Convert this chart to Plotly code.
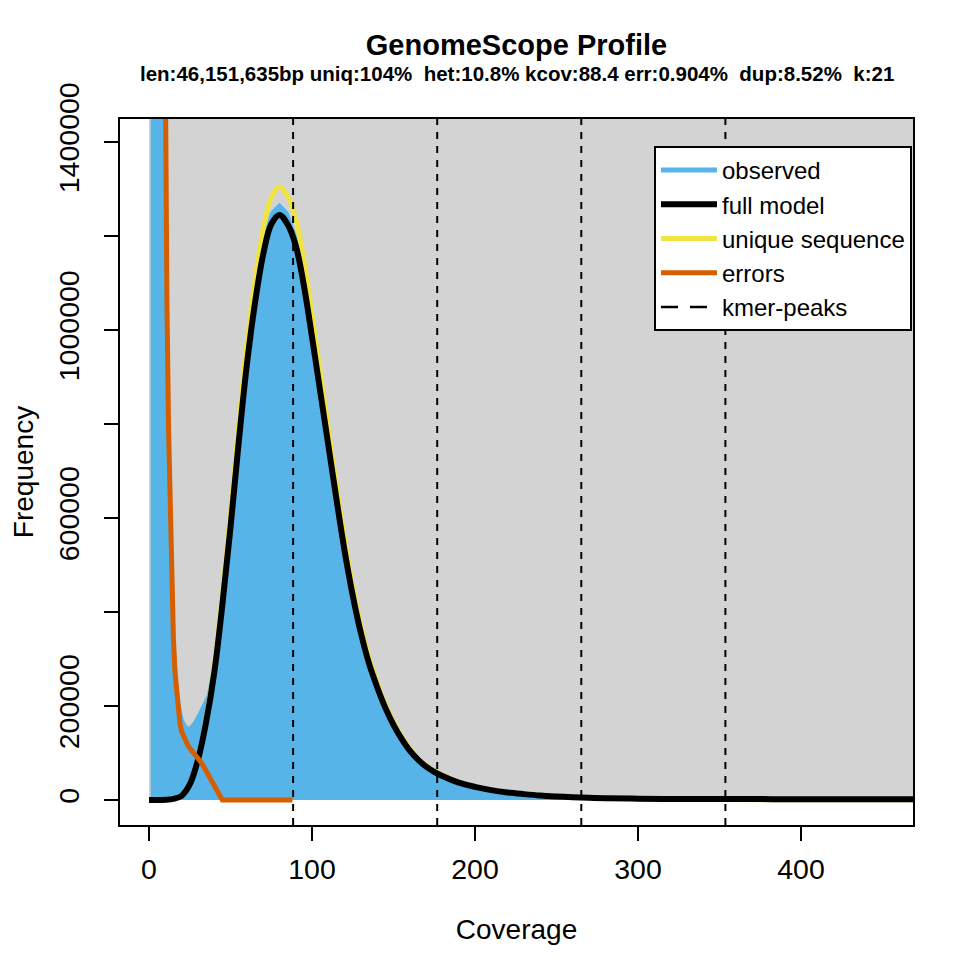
import plotly.graph_objects as go

# k-mer coverage histogram (observed)
obs_cov = [1, 2, 3, 4, 5, 6, 7, 8, 9, 10, 11, 12, 13, 14, 15, 16, 17, 18, 19, 20,
           21, 22, 23, 24, 25, 26, 27, 28, 29, 30, 32, 34, 36, 38, 40, 42, 44, 46, 48, 50,
           55, 60, 65, 70, 75, 80, 85, 90, 95, 100, 105, 110, 115, 120, 125, 130, 135, 140,
           145, 150, 155, 160, 165, 170, 175, 180, 190, 200, 210, 220, 230, 240, 250, 260,
           270, 280, 290, 300, 350, 400, 450]
obs_freq = [9000000, 6000000, 4600000, 3800000, 3300000, 2900000, 2500000, 2100000, 1650000, 1250000,
            950000, 740000, 580000, 460000, 370000, 305000, 255000, 220000, 195000, 180000,
            168000, 160000, 156000, 154000, 155000, 158000, 162000, 167000, 173000, 180000,
            192000, 206000, 222000, 258000, 295000, 350000, 420000, 490000, 560000, 630000,
            810000, 970000, 1095000, 1190000, 1250000, 1268000, 1250000, 1200000, 1115000, 1005000,
            885000, 765000, 650000, 540000, 442000, 360000, 293000, 240000, 196000, 160000,
            129000, 104000, 85000, 70000, 59000, 50000, 36000, 27000, 20000, 15000,
            11000, 8500, 6500, 5000, 3800, 2900, 2200, 1700, 800, 400, 200]

# model curves
model_cov = [0, 5, 10, 15, 20, 25, 30, 35, 40, 45, 50, 55, 60, 65, 70, 75, 80, 85, 90, 95,
             100, 105, 110, 115, 120, 125, 130, 135, 140, 145, 150, 155, 160, 165, 170, 175,
             180, 190, 200, 210, 220, 230, 240, 250, 260, 270, 280, 300, 325, 350, 400, 450, 470]
full_model = [0, 0, 500, 2500, 9000, 33000, 85000, 165000, 270000, 415000, 580000, 760000, 925000,
              1057000, 1160000, 1225000, 1245000, 1225000, 1180000, 1095000, 985000, 870000,
              755000, 640000, 530000, 435000, 355000, 290000, 240000, 196000, 160000, 130000,
              105000, 86000, 71000, 60000, 51000, 37000, 28000, 21000, 16000, 12500, 9500, 7500,
              6000, 4700, 3800, 2800, 2200, 2000, 1800, 1800, 1800]
unique_seq = [0, 0, 500, 2500, 9500, 34000, 88000, 172000, 283000, 435000, 607000, 795000, 968000,
              1105000, 1215000, 1282000, 1305000, 1285000, 1237000, 1148000, 1032000, 910000,
              788000, 668000, 553000, 453000, 370000, 302000, 249000, 203000, 166000, 135000,
              109000, 89000, 73500, 62000, 52500, 38000, 28500, 21500, 16300, 12700, 9700, 7600,
              6000, 4700, 3700, 2500, 1500, 1000, 500, 300, 300]

err_cov = [8, 9, 10, 11, 12, 13, 14, 15, 16, 17, 18, 19, 20, 22, 24, 26, 28, 30, 32, 34, 36, 38,
           40, 42, 44, 45, 88]
err_freq = [2600000, 1950000, 1450000, 1060000, 790000, 590000, 440000, 340000, 270000, 222000,
            186000, 162000, 146000, 127000, 115000, 106000, 98000, 90000, 80000, 68000, 56000,
            43000, 30000, 17000, 5000, 0, 0]

kmer_peaks = [88.4, 176.8, 265.2, 353.6]

y_ticks = [0, 200000, 400000, 600000, 800000, 1000000, 1200000, 1400000]
y_tick_text = ["0", "200000", "", "600000", "", "1000000", "", "1400000"]
x_ticks = [0, 100, 200, 300, 400]

subtitle = ("len:46,151,635bp uniq:104%\u00a0\u00a0het:10.8% kcov:88.4 err:0.904%"
            "\u00a0\u00a0dup:8.52%\u00a0\u00a0k:21")

BLUE = "#56B4E9"
YELLOW = "#F0E442"
ORANGE = "#D55E00"
FONT = "Liberation Sans"
x_range = [-17.8, 468.7]
y_range = [-53200, 1449000]

# the page body adds an 8px margin, so the figure is 967px to fill the 975px window
W = H = 967

fig = go.Figure()

fig.add_trace(go.Scatter(x=obs_cov, y=obs_freq, mode="lines", fill="tozeroy",
                         fillcolor=BLUE, line=dict(width=2, color=BLUE),
                         showlegend=False, hoverinfo="skip"))
# legend entry for the histogram drawn as a line sample, like R's legend
fig.add_trace(go.Scatter(x=[None], y=[None], mode="lines", name="observed",
                         line=dict(color=BLUE, width=5), legendrank=1))
fig.add_trace(go.Scatter(x=model_cov, y=unique_seq, mode="lines", name="unique sequence",
                         line=dict(color=YELLOW, width=5, shape="spline"), legendrank=3))
fig.add_trace(go.Scatter(x=model_cov, y=full_model, mode="lines", name="full model",
                         line=dict(color="black", width=6, shape="spline"), legendrank=2))
fig.add_trace(go.Scatter(x=err_cov, y=err_freq, mode="lines", name="errors",
                         line=dict(color=ORANGE, width=5), legendrank=4))
fig.add_trace(go.Scatter(x=[None], y=[None], mode="lines", name="kmer-peaks",
                         line=dict(color="black", width=2.5, dash="17px,12px"), legendrank=5))

# light grey background from the origin, as GenomeScope does
fig.add_shape(type="rect", xref="x", yref="y", x0=0, x1=x_range[1], y0=0, y1=y_range[1],
              fillcolor="#D3D3D3", line=dict(width=0), layer="below")
for p in kmer_peaks:
    fig.add_shape(type="line", xref="x", yref="paper", x0=p, x1=p, y0=0, y1=1,
                  line=dict(color="black", width=2, dash="7px,7px"), layer="above")

fig.add_annotation(text="<b>" + subtitle + "</b>", xref="paper", yref="paper",
                   x=0.5, y=(825 - 73) / 706, yanchor="middle", showarrow=False,
                   font=dict(family=FONT, size=20.5, color="black"))

fig.update_xaxes(range=x_range, tickvals=x_ticks, ticks="outside", ticklen=14, tickwidth=2,
                 tickcolor="black", showline=True, linecolor="black", linewidth=2, mirror=True,
                 showgrid=False, zeroline=False, automargin=False, ticklabelstandoff=4,
                 tickfont=dict(family=FONT, size=28.5, color="black"),
                 title=dict(text="Coverage", standoff=35,
                            font=dict(family=FONT, size=28, color="black")))
fig.update_yaxes(range=y_range, tickvals=y_ticks, ticktext=y_tick_text, tickangle=-90,
                 ticks="outside", ticklen=14, tickwidth=2, tickcolor="black",
                 showline=True, linecolor="black", linewidth=2, mirror=True,
                 showgrid=False, zeroline=False, automargin=False, ticklabelstandoff=14,
                 tickfont=dict(family=FONT, size=28.5, color="black"),
                 title=dict(text="Frequency", standoff=26,
                            font=dict(family=FONT, size=28, color="black")))

fig.update_layout(
    width=W, height=H,
    margin=dict(l=112, r=62, t=111, b=150),
    plot_bgcolor="white", paper_bgcolor="white",
    title=dict(text="<b>GenomeScope Profile</b>", x=0.5, xref="paper", xanchor="center",
               y=1 - 37 / H, yref="container", yanchor="middle",
               font=dict(family=FONT, size=29, color="black")),
    legend=dict(x=0.9987, y=(825 - 146) / 706, xanchor="right", yanchor="top",
                bgcolor="white", bordercolor="black", borderwidth=2,
                font=dict(family=FONT, size=24, color="black"), itemwidth=56,
                traceorder="normal"),
    showlegend=True,
)

fig.write_html("out.html")
